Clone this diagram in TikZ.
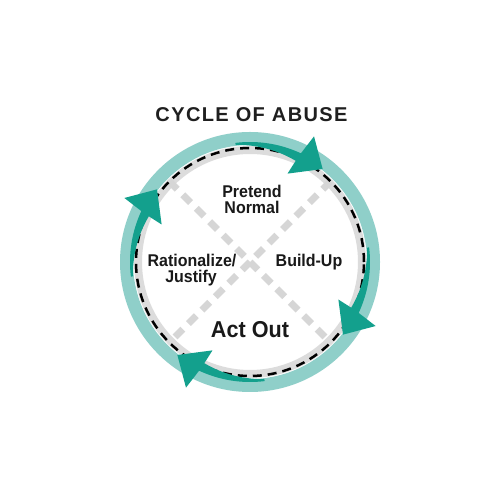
\documentclass[tikz,border=0pt]{standalone}
\usepackage{fontspec}
\setmainfont{Liberation Sans}
\newfontfamily\condfont[FakeStretch=0.94]{Liberation Sans}
\newfontfamily\titlefont[LetterSpace=7]{Liberation Sans}
\definecolor{lteal}{HTML}{8FCFC9}
\definecolor{dteal}{HTML}{13A08D}
\definecolor{gband}{HTML}{DCDCDC}
\definecolor{gdiag}{HTML}{D6D6D6}
\newcommand\cyarrow[1]{%
  \pgfmathsetmacro\tipA{#1}%
  \pgfmathsetmacro\tailA{#1+45}%
  \pgfmathsetmacro\bo{#1+12.9}%
  \pgfmathsetmacro\bi{#1+13.7}%
  \pgfmathsetmacro\co{#1+11}%
  \pgfmathsetmacro\ci{#1+15}%
  \fill[dteal] plot[domain=\tailA:\bo,samples=30] (\x:120)
    -- (\co:141) -- (\tipA:118) -- (\ci:96) -- (\bi:111)
    -- plot[domain=\bi:\tailA,samples=30] (\x:{111+7*(\x-\bi)/(\tailA-\bi)}) -- cycle;
}
\tikzset{
  labeltxt/.style={font=\condfont\bfseries\fontsize{17}{15}\selectfont, inner sep=0pt, anchor=base, text=black!90, text height=12.3pt, text depth=0.8pt},
}
\begin{document}
\begin{tikzpicture}[x=1pt,y=1pt]
\useasboundingbox[fill=white] (0,0) rectangle (500,500);
\node[font=\titlefont\bfseries\fontsize{20}{24}\selectfont, text=black!88, inner sep=0pt] (title) at (251.5,385) {CYCLE OF ABUSE};
\begin{scope}[shift={(250,238)}]
  \draw[lteal, line width=13pt] (0,0) circle (123.5);
  \draw[gband, line width=8pt] (0,0) circle (112);
  \draw[gdiag, line width=7pt, dash pattern=on 11pt off 8pt] (45:114) -- (225:114);
  \draw[gdiag, line width=7pt, dash pattern=on 11pt off 8pt] (135:114) -- (315:114);
  \draw[black, line width=2.5pt, dash pattern=on 9pt off 6pt] (0,0) circle (114);
  \cyarrow{52}
  \cyarrow{-38}
  \cyarrow{-128}
  \cyarrow{142}
\end{scope}
\node[labeltxt] (pretend) at (252,302.5) {Pretend};
\node[labeltxt] (normal) at (252,286.5) {Normal};
\node[labeltxt] (ratio) at (192,233.5) {Rationalize/};
\node[labeltxt, text depth=3.5pt] (justify) at (191,217.5) {Justify};
\node[labeltxt] (build) at (309,233) {Build-Up};
\node[labeltxt, font=\condfont\bfseries\fontsize{23}{26}\selectfont, text height=16.5pt] (act) at (250,162) {Act Out};
\end{tikzpicture}
\end{document}
